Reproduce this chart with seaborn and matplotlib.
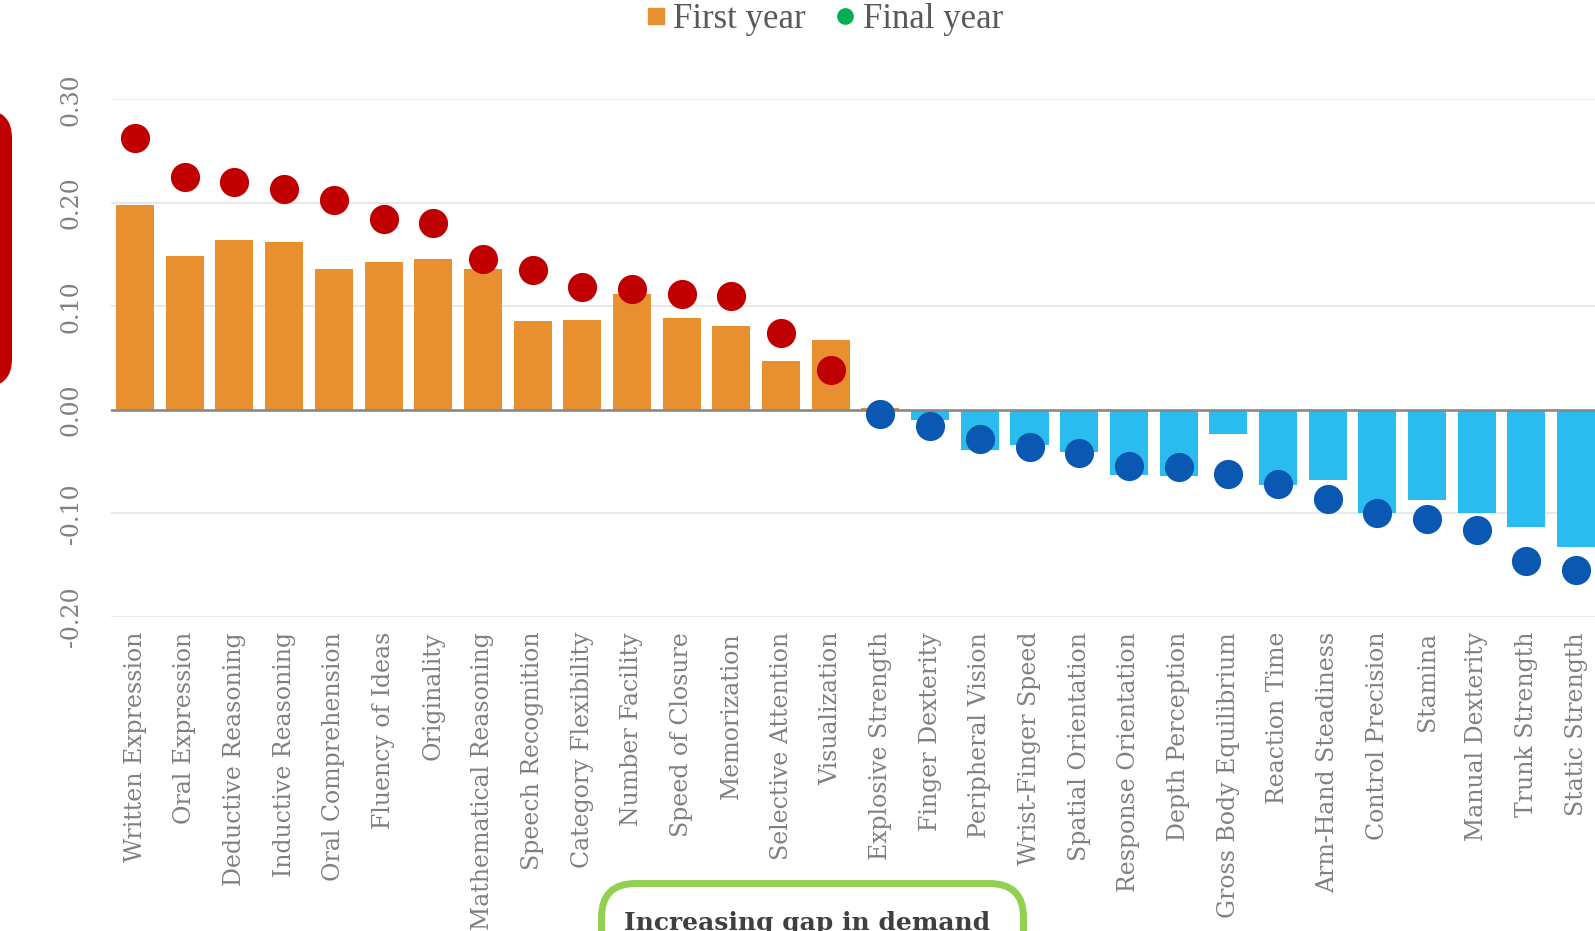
import numpy as np
import pandas as pd
import matplotlib
matplotlib.use("Agg")
import matplotlib.pyplot as plt
from matplotlib.patches import FancyBboxPatch
from matplotlib.lines import Line2D
from matplotlib.transforms import IdentityTransform
import seaborn as sns

abilities = [
    "Written Expression", "Oral Expression", "Deductive Reasoning", "Inductive Reasoning",
    "Oral Comprehension", "Fluency of Ideas", "Originality", "Mathematical Reasoning",
    "Speech Recognition", "Category Flexibility", "Number Facility", "Speed of Closure",
    "Memorization", "Selective Attention", "Visualization", "Explosive Strength",
    "Finger Dexterity", "Peripheral Vision", "Wrist-Finger Speed", "Spatial Orientation",
    "Response Orientation", "Depth Perception", "Gross Body Equilibrium", "Reaction Time",
    "Arm-Hand Steadiness", "Control Precision", "Stamina", "Manual Dexterity",
    "Trunk Strength", "Static Strength",
]
first_year = [0.198, 0.149, 0.164, 0.162, 0.136, 0.143, 0.146, 0.136, 0.086, 0.087,
              0.112, 0.089, 0.081, 0.047, 0.067, 0.002, -0.010, -0.039, -0.034, -0.041,
              -0.063, -0.064, -0.023, -0.073, -0.068, -0.100, -0.087, -0.100, -0.113, -0.133]
final_year = [0.263, 0.225, 0.220, 0.213, 0.203, 0.184, 0.180, 0.146, 0.135, 0.119,
              0.117, 0.112, 0.110, 0.074, 0.038, -0.004, -0.016, -0.028, -0.036, -0.042,
              -0.054, -0.055, -0.062, -0.072, -0.086, -0.100, -0.106, -0.116, -0.146, -0.155]
y_ticks = [-0.20, -0.10, 0.00, 0.10, 0.20, 0.30]
y_tick_labels = ["-0.20", "-0.10", "0.00", "0.10", "0.20", "0.30"]
legend_labels = ["First year", "Final year"]
callout_text = "Increasing gap in demand"

df = pd.DataFrame({"ability": abilities, "first": first_year, "final": final_year})
df["bar_sign"] = np.where(df["first"] >= 0, "pos", "neg")
df["dot_sign"] = np.where(df["final"] >= 0, "pos", "neg")

bar_pal = {"pos": "#E8902F", "neg": "#2BBCEF"}
dot_pal = {"pos": "#C00000", "neg": "#0A58B2"}

W, H = 1595, 931
fig = plt.figure(figsize=(W / 100, H / 100), dpi=100)
left, right, top_px, bot_px = 110.7, 1595, 99.3, 616.7
ax = fig.add_axes([left / W, (H - bot_px) / H, (right - left) / W, (bot_px - top_px) / H])

for y in y_ticks:
    if y != 0:
        ax.axhline(y, color="#E8E8E8", lw=1.5, zorder=0)

sns.barplot(data=df, x="ability", y="first", hue="bar_sign", palette=bar_pal,
            order=abilities, dodge=False, width=0.765, errorbar=None, saturation=1,
            linewidth=0, legend=False, ax=ax, zorder=1)
ax.axhline(0, color="#888888", lw=1.9, zorder=2)
sns.stripplot(data=df, x="ability", y="final", hue="dot_sign", palette=dot_pal,
              order=abilities, dodge=False, jitter=False, size=21, linewidth=0,
              legend=False, ax=ax, zorder=3)

ax.set_xlim(-0.49, 29.38)
ax.set_ylim(-0.2, 0.3)
ax.set_yticks(y_ticks)
ax.set_yticklabels(y_tick_labels)
ax.set_xlabel("")
ax.set_ylabel("")
for s in ax.spines.values():
    s.set_visible(False)
ax.tick_params(axis="both", length=0, colors="#808080", labelsize=17)
ax.tick_params(axis="x", pad=11, labelrotation=90)
ax.tick_params(axis="y", pad=20, labelrotation=90)
for lab in ax.get_xticklabels() + ax.get_yticklabels():
    lab.set_fontfamily("DejaVu Serif")
for lab in ax.get_yticklabels():
    lab.set_va("center")

# legend
handles = [Line2D([], [], marker="s", ls="none", color="#E8902F", markersize=11),
           Line2D([], [], marker="o", ls="none", color="#00B050", markersize=11)]
fig.legend(handles, legend_labels, loc="upper center", ncol=2, frameon=False,
           bbox_to_anchor=(825 / W, 1 - 3 / H), borderaxespad=0, borderpad=0,
           handlelength=0.5, handletextpad=0.25, columnspacing=0.9,
           prop={"family": "Liberation Serif", "size": 25}, labelcolor="#595959")

# decorative callout shapes (cropped in the original)
red = FancyBboxPatch((-80, H - 387), 92, 277, boxstyle="round,pad=0,rounding_size=28",
                     facecolor="#C00000", edgecolor="none", transform=IdentityTransform())
fig.patches.append(red)
green = FancyBboxPatch((601.5, -60), 422, H - 883.5 + 60,
                       boxstyle="round,pad=0,rounding_size=34",
                       facecolor="none", edgecolor="#92D050", lw=5,
                       transform=IdentityTransform())
fig.patches.append(green)
fig.text(807 / W, 1 / H, callout_text, ha="center", va="baseline",
         fontsize=18, fontweight="bold", family="DejaVu Serif", color="#404040")

fig.savefig("out.png", dpi=100)
